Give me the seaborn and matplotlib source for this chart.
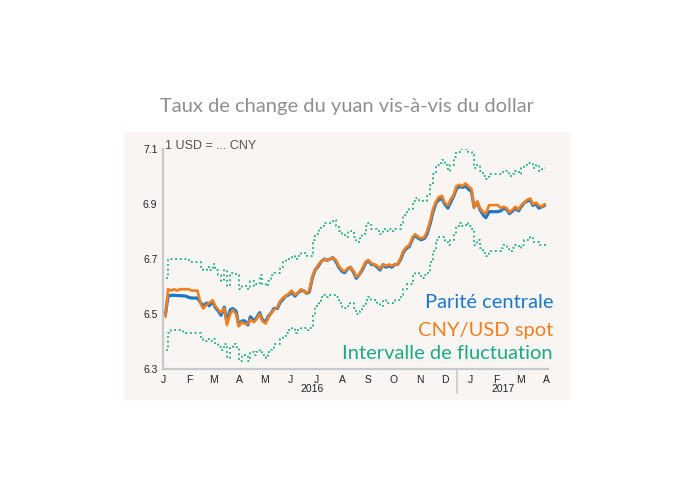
import pandas as pd
import seaborn as sns
import matplotlib.pyplot as plt
import matplotlib.transforms as mtransforms
from matplotlib.patches import Rectangle

# une valeur le lundi et une le jeudi de chaque semaine
mondays = pd.date_range("2016-01-04", "2017-03-27", freq="W-MON")
thursdays = pd.date_range("2016-01-07", "2017-03-30", freq="W-THU")
dates = mondays.union(thursdays)

# parité centrale (CNY pour 1 USD)
central = [
    6.500, 6.565, 6.568, 6.568, 6.567, 6.567, 6.566, 6.565, 6.560, 6.558,
    6.558, 6.558, 6.540, 6.530, 6.540, 6.530, 6.545, 6.525, 6.510, 6.495,
    6.525, 6.470, 6.515, 6.520, 6.510, 6.460, 6.475, 6.475, 6.460, 6.490,
    6.475, 6.485, 6.505, 6.480, 6.470, 6.490, 6.505, 6.520, 6.520, 6.540,
    6.555, 6.565, 6.570, 6.580, 6.565, 6.575, 6.585, 6.585, 6.575, 6.580,
    6.635, 6.660, 6.675, 6.690, 6.700, 6.695, 6.700, 6.705, 6.690, 6.670,
    6.655, 6.650, 6.665, 6.670, 6.650, 6.630, 6.645, 6.660, 6.685, 6.695,
    6.680, 6.680, 6.670, 6.660, 6.680, 6.670, 6.675, 6.670, 6.680, 6.680,
    6.700, 6.725, 6.740, 6.745, 6.775, 6.785, 6.775, 6.770, 6.775, 6.790,
    6.830, 6.870, 6.905, 6.915, 6.920, 6.900, 6.885, 6.905, 6.930, 6.955,
    6.965, 6.960, 6.965, 6.955, 6.945, 6.890, 6.905, 6.880, 6.860, 6.850,
    6.872, 6.872, 6.872, 6.872, 6.875, 6.885, 6.880, 6.865, 6.875, 6.885,
    6.875, 6.890, 6.905, 6.910, 6.915, 6.895, 6.900, 6.885, 6.890, 6.895,
]

# cours spot CNY/USD
spot = [
    6.490, 6.590, 6.585, 6.590, 6.585, 6.590, 6.590, 6.590, 6.590, 6.585,
    6.585, 6.585, 6.535, 6.520, 6.535, 6.540, 6.550, 6.530, 6.515, 6.505,
    6.520, 6.460, 6.500, 6.515, 6.500, 6.455, 6.470, 6.465, 6.465, 6.480,
    6.470, 6.480, 6.500, 6.475, 6.465, 6.485, 6.505, 6.515, 6.525, 6.545,
    6.560, 6.565, 6.575, 6.585, 6.570, 6.575, 6.590, 6.585, 6.575, 6.585,
    6.640, 6.660, 6.680, 6.690, 6.700, 6.695, 6.700, 6.705, 6.695, 6.675,
    6.660, 6.655, 6.665, 6.670, 6.655, 6.635, 6.645, 6.665, 6.690, 6.695,
    6.685, 6.680, 6.675, 6.665, 6.680, 6.675, 6.680, 6.675, 6.680, 6.680,
    6.705, 6.730, 6.745, 6.750, 6.780, 6.790, 6.780, 6.775, 6.780, 6.800,
    6.840, 6.880, 6.910, 6.925, 6.930, 6.905, 6.895, 6.915, 6.935, 6.965,
    6.970, 6.965, 6.975, 6.965, 6.955, 6.885, 6.910, 6.885, 6.870, 6.865,
    6.896, 6.896, 6.896, 6.896, 6.885, 6.890, 6.885, 6.870, 6.880, 6.890,
    6.880, 6.895, 6.905, 6.915, 6.920, 6.900, 6.905, 6.895, 6.890, 6.900,
]

# intervalle de fluctuation (bornes haute et basse)
upper = [
    6.63, 6.70, 6.70, 6.70, 6.70, 6.70, 6.70, 6.70, 6.69, 6.69,
    6.69, 6.69, 6.67, 6.66, 6.67, 6.66, 6.68, 6.66, 6.64, 6.62,
    6.66, 6.60, 6.65, 6.65, 6.64, 6.59, 6.60, 6.60, 6.59, 6.62,
    6.60, 6.61, 6.64, 6.61, 6.60, 6.62, 6.64, 6.65, 6.65, 6.67,
    6.69, 6.70, 6.70, 6.71, 6.70, 6.71, 6.72, 6.72, 6.71, 6.71,
    6.77, 6.79, 6.81, 6.82, 6.83, 6.83, 6.83, 6.84, 6.82, 6.80,
    6.79, 6.78, 6.80, 6.80, 6.78, 6.76, 6.78, 6.79, 6.82, 6.83,
    6.81, 6.81, 6.80, 6.79, 6.81, 6.80, 6.81, 6.80, 6.81, 6.81,
    6.83, 6.86, 6.87, 6.88, 6.91, 6.92, 6.91, 6.91, 6.91, 6.93,
    6.97, 7.01, 7.04, 7.05, 7.06, 7.04, 7.02, 7.04, 7.07, 7.09,
    7.10, 7.10, 7.10, 7.09, 7.08, 7.03, 7.04, 7.02, 7.00, 6.99,
    7.01, 7.01, 7.01, 7.01, 7.01, 7.02, 7.02, 7.00, 7.01, 7.02,
    7.01, 7.03, 7.04, 7.05, 7.05, 7.03, 7.04, 7.02, 7.03, 7.03,
]
lower = [
    6.37, 6.43, 6.44, 6.44, 6.44, 6.44, 6.43, 6.43, 6.43, 6.43,
    6.43, 6.43, 6.41, 6.40, 6.41, 6.40, 6.41, 6.39, 6.38, 6.37,
    6.39, 6.34, 6.38, 6.39, 6.38, 6.33, 6.35, 6.35, 6.33, 6.36,
    6.35, 6.36, 6.37, 6.35, 6.34, 6.36, 6.37, 6.39, 6.39, 6.41,
    6.42, 6.43, 6.44, 6.45, 6.43, 6.44, 6.45, 6.45, 6.44, 6.45,
    6.50, 6.53, 6.54, 6.56, 6.57, 6.56, 6.57, 6.57, 6.56, 6.54,
    6.52, 6.52, 6.53, 6.54, 6.52, 6.50, 6.51, 6.53, 6.55, 6.56,
    6.55, 6.55, 6.54, 6.53, 6.55, 6.54, 6.54, 6.54, 6.55, 6.55,
    6.57, 6.59, 6.61, 6.61, 6.64, 6.65, 6.64, 6.63, 6.64, 6.65,
    6.69, 6.73, 6.77, 6.78, 6.78, 6.76, 6.75, 6.77, 6.79, 6.82,
    6.83, 6.82, 6.83, 6.82, 6.81, 6.75, 6.77, 6.74, 6.72, 6.71,
    6.73, 6.73, 6.73, 6.73, 6.74, 6.75, 6.74, 6.73, 6.74, 6.75,
    6.74, 6.75, 6.77, 6.77, 6.78, 6.76, 6.76, 6.75, 6.75, 6.76,
]

month_ticks = pd.date_range("2016-01-01", "2017-04-01", freq="MS")
month_labels = ["J", "F", "M", "A", "M", "J", "J", "A", "S", "O", "N", "D",
                "J", "F", "M", "A"]
y_ticks = [6.3, 6.5, 6.7, 6.9, 7.1]

BLUE = "#1b78c9"
ORANGE = "#f07f20"
TEAL = "#1eaa88"
GRID = "#c9c9c9"

sns.set_style("white")
plt.rcParams["font.family"] = ["Liberation Sans", "DejaVu Sans"]

df = pd.DataFrame({"date": dates, "central": central, "spot": spot,
                   "upper": upper, "lower": lower})

fig = plt.figure(figsize=(6.95, 4.83), dpi=100)
fig.patches.append(Rectangle((124 / 695, 83 / 483), 447 / 695, 268 / 483,
                             transform=fig.transFigure, facecolor="#f8f5f2",
                             edgecolor="none", zorder=-10))
ax = fig.add_axes([163 / 695, 114 / 483, 385 / 695, 220 / 483])
ax.patch.set_alpha(0)
ax.set_zorder(2)

for col in ["upper", "lower"]:
    sns.lineplot(data=df, x="date", y=col, ax=ax, color=TEAL, lw=1.3,
                 linestyle=(0, (1, 1.6)), drawstyle="steps-post")
sns.lineplot(data=df, x="date", y="central", ax=ax, color=BLUE, lw=2.3)
sns.lineplot(data=df, x="date", y="spot", ax=ax, color=ORANGE, lw=1.9)

ax.set_xlim(pd.Timestamp("2016-01-01"), pd.Timestamp("2017-04-03"))
ax.set_ylim(6.3, 7.1)
ax.set_xticks(month_ticks)
ax.set_xticklabels(month_labels)
ax.set_yticks(y_ticks)
ax.set_yticklabels([f"{v:.1f}" for v in y_ticks])
ax.set_xlabel("")
ax.set_ylabel("")
for side in ["top", "right"]:
    ax.spines[side].set_visible(False)
for side in ["left", "bottom"]:
    ax.spines[side].set_color(GRID)
    ax.spines[side].set_linewidth(1.6)
ax.tick_params(axis="both", direction="in", length=4, width=1, color=GRID,
               labelsize=7.5, labelcolor="#222222", pad=4)

# années et séparateur sous l'axe
trans = mtransforms.blended_transform_factory(ax.transData, ax.transAxes)
ax.text(pd.Timestamp("2016-06-26"), -0.09, "2016", transform=trans,
        ha="center", va="center", fontsize=7.5, color="#222222")
ax.text(pd.Timestamp("2017-02-08"), -0.09, "2017", transform=trans,
        ha="center", va="center", fontsize=7.5, color="#222222")
ax.plot([pd.Timestamp("2016-12-16")] * 2, [0, -0.11], transform=trans,
        color=GRID, lw=1.2, clip_on=False)

ax.text(0.005, 1.012, "1 USD = ... CNY", transform=ax.transAxes,
        ha="left", va="center", fontsize=9, color="#555555")

legend_font = ["Lato", "DejaVu Sans"]
ax.text(1.013, 0.300, "Parité centrale", transform=ax.transAxes, ha="right",
        va="center", fontsize=14.5, color=BLUE, family=legend_font)
ax.text(1.013, 0.175, "CNY/USD spot", transform=ax.transAxes, ha="right",
        va="center", fontsize=14.5, color=ORANGE, family=legend_font)
ax.text(1.013, 0.070, "Intervalle de fluctuation", transform=ax.transAxes,
        ha="right", va="center", fontsize=14.5, color=TEAL, family=legend_font)

fig.text(0.4986, 0.779, "Taux de change du yuan vis-à-vis du dollar",
         ha="center", va="center", fontsize=14.5, color="#8f8f8f",
         family=legend_font)

fig.savefig("out.png", dpi=100)
